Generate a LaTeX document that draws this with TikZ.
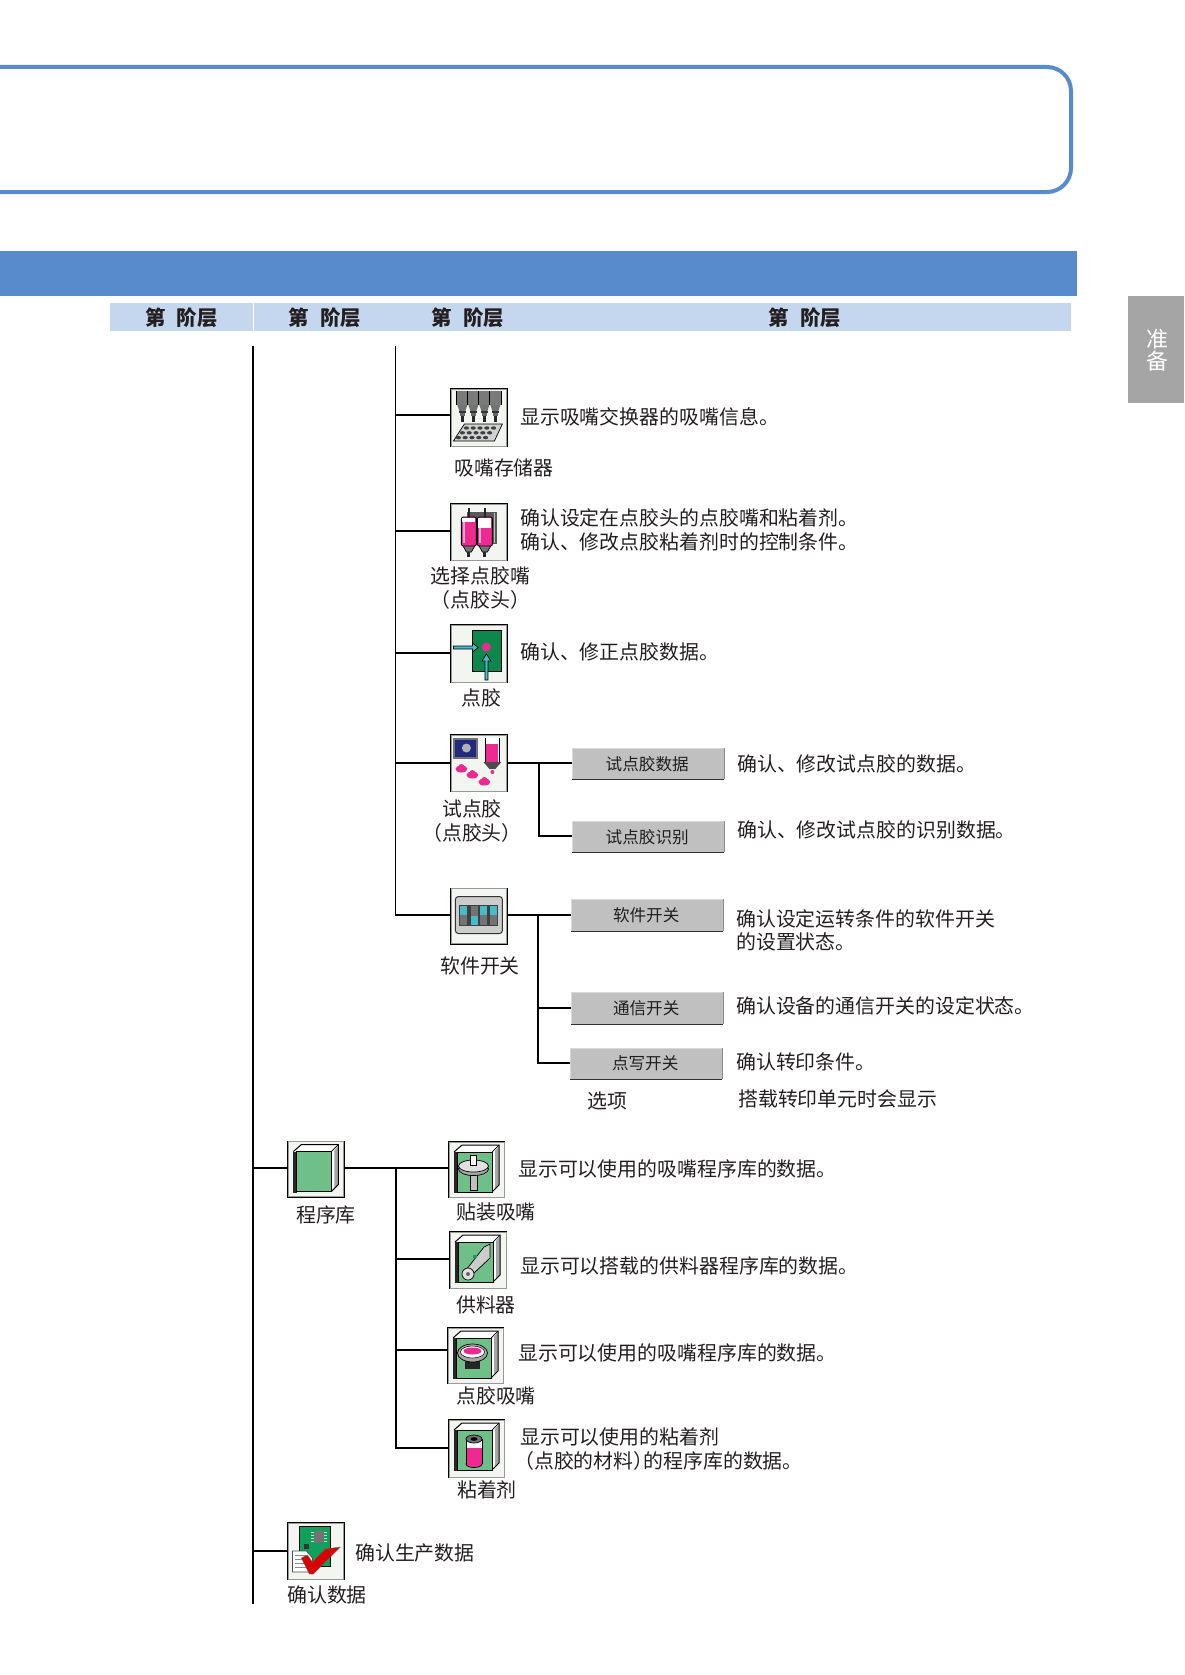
\documentclass[tikz,border=0pt]{standalone}
\usepackage{fontspec}
\setmainfont{Noto Sans CJK SC}
\definecolor{hblue}{HTML}{578BCB}
\definecolor{lblue}{HTML}{C5D7EF}
\definecolor{tabgray}{HTML}{A5A5A5}
\definecolor{btngray}{HTML}{C0C0C0}
\definecolor{icobg}{HTML}{F3F5F0}
\definecolor{bookgreen}{HTML}{6FC088}
\definecolor{pcbgreen}{HTML}{0FA05A}
\definecolor{pinkc}{HTML}{EC2A92}
\definecolor{tealc}{HTML}{45BCC8}
\definecolor{navyc}{HTML}{222A80}
\definecolor{txt}{HTML}{231F20}
\tikzset{
  x=1pt,y=-1pt,
  lab/.style={font=\fontsize{19.9}{20}\selectfont,text=txt,inner sep=0pt,text height=17.5pt,text depth=2.5pt},
  desc/.style={lab,anchor=west},
  head/.style={font=\fontsize{20.4}{20}\bfseries\selectfont,text=txt,inner sep=0pt,text height=17.5pt,text depth=2.5pt},
  btnbox/.style={fill=btngray,inner sep=0pt,anchor=north west,font=\fontsize{16.6}{18}\selectfont,text=black!88},
  trunk/.style={draw=black,line width=1.9pt},
  conn/.style={draw=black,line width=1.3pt},
  iconbox/.style={draw=black,fill=icobg,line width=1.3pt,inner sep=0pt,anchor=north west},
  ol/.style={draw=black,line width=.7pt},
  arrowpoly/.style={fill=tealc,draw=black,line width=.7pt},
}
\newcommand\myicon[5]{%
  \node[iconbox,minimum width=#4pt,minimum height=#5pt] (#1) at (#2,#3) {};
  \draw[black!40,line width=.9pt] ([xshift=1.2pt,yshift=-1.2pt]#1.north west) rectangle ([xshift=-1.2pt,yshift=1.2pt]#1.south east);
}
\newcommand\mybtn[6]{%
  \node[btnbox,minimum width=#4pt,minimum height=#5pt] (#1) at (#2,#3) {\kern-2pt #6};
  \draw[white!85!black,line width=.8pt] (#1.south west) -- (#1.north west) -- (#1.north east);
  \draw[black!45,line width=.8pt] (#1.north east) -- (#1.south east);
  \draw[black!80,line width=1.3pt] (#1.south west) -- (#1.south east);
}
\newcommand\mybook{%
  \fill[white] (6,11) -- (14,4) -- (51,4) -- (44,11) -- cycle;
  \fill[white] (44,11) -- (51,4) -- (51,44) -- (44,51) -- cycle;
  \fill[black!35] (47,10) -- (51,5) -- (51,44) -- (47,48) -- cycle;
  \draw[black,line width=1pt] (6,11) -- (14,4) -- (51,4) -- (51,44) -- (44,51);
  \draw[black,line width=.7pt] (44,11) -- (51,4);
  \fill[black!85] (6,11) rectangle (9.5,52);
  \fill[bookgreen] (9.5,11) rectangle (44,51);
  \draw[black,line width=1pt] (9.5,11) rectangle (44,51);
}
\begin{document}
\begin{tikzpicture}
\useasboundingbox (0,0) rectangle (1184,1675);
% title box
\draw[hblue,line width=4pt,rounded corners=24pt] (0,67) -- (1071,67) -- (1071,192) -- (0,192);
% bands
\fill[hblue] (0,251) rectangle (1077,296);
\fill[lblue] (110,303) rectangle (1071,331);
\draw[white,line width=1pt] (253,303) -- (253,331);
\node[head] (h1) at (181.5,318) {第\hspace{11pt}阶层};
\node[head] (h2) at (325,318) {第\hspace{11pt}阶层};
\node[head] (h3) at (468,318) {第\hspace{11pt}阶层};
\node[head] (h4) at (805,318) {第\hspace{11pt}阶层};
% side tab
\fill[tabgray] (1128,296) rectangle (1184,403);
\node[lab,text=white,font=\fontsize{22}{22}\selectfont] (tab1) at (1157,340) {准};
\node[lab,text=white,font=\fontsize{22}{22}\selectfont] (tab2) at (1157,362) {备};
% trunks
\coordinate (t2a) at (253,346); \coordinate (t2b) at (253,1604);
\coordinate (t3a) at (395.5,346); \coordinate (t3b) at (395.5,916);
\coordinate (t4a) at (396,1168); \coordinate (t4b) at (396,1449);
\draw[trunk] (t2a) -- (t2b);
\draw[trunk] (t3a) -- (t3b);
\draw[conn,line width=1.5pt] (t4a) -- (t4b);
% icons
\myicon{i1}{450.4}{388}{56}{58}
\myicon{i2}{450.4}{503}{56}{57}
\myicon{i3}{450.4}{624}{56}{58}
\myicon{i4}{450.4}{734}{56}{57}
\myicon{i5}{450.4}{887.5}{56}{56}
\myicon{l0}{287.4}{1140.5}{56}{56}
\myicon{l1}{448}{1141}{56}{56}
\myicon{l2}{449}{1231}{57}{57}
\myicon{l3}{447}{1327}{56}{56}
\myicon{l4}{448}{1419}{56}{58}
\myicon{d0}{287.4}{1522}{56}{57}
% connectors level 3
\coordinate (j1) at (395.5,415); \draw[conn] (j1) -- (j1 -| i1.west);
\coordinate (j2) at (395.5,531); \draw[conn] (j2) -- (j2 -| i2.west);
\coordinate (j3) at (395.5,653); \draw[conn] (j3) -- (j3 -| i3.west);
\coordinate (j4) at (395.5,763); \draw[conn] (j4) -- (j4 -| i4.west);
\coordinate (j5) at (395.5,915); \draw[conn] (j5) -- (j5 -| i5.west);
\coordinate (j6) at (253,1168); \draw[conn] (j6) -- (j6 -| l0.west);
\coordinate (j7) at (253,1551); \draw[conn] (j7) -- (j7 -| d0.west);
\coordinate (k0) at (396,1168); \draw[conn,line width=1.5pt] (k0 -| l0.east) -- (k0);
\draw[conn] (k0) -- (k0 -| l1.west);
\coordinate (k2) at (396,1259); \draw[conn] (k2) -- (k2 -| l2.west);
\coordinate (k3) at (396,1350); \draw[conn] (k3) -- (k3 -| l3.west);
\coordinate (k4) at (396,1448); \draw[conn] (k4) -- (k4 -| l4.west);
% buttons
\mybtn{b1}{572}{748}{152}{31}{试点胶数据}
\mybtn{b2}{572}{821}{152}{31}{试点胶识别}
\mybtn{b3}{571}{899}{152}{32}{软件开关}
\mybtn{b4}{571}{992}{152}{32}{通信开关}
\mybtn{b5}{570}{1048}{152}{31}{点写开关}
\coordinate (m1) at (539,763); \coordinate (m2) at (539,836);
\draw[conn] (i4.east |- m1) -- (m1 -| b1.west);
\draw[conn] (m1) -- (m2) -- (m2 -| b2.west);
\coordinate (n1) at (538,915); \coordinate (n2) at (538,1008); \coordinate (n3) at (538,1063);
\draw[conn] (i5.east |- n1) -- (n1 -| b3.west);
\draw[conn] (n1) -- (n3) -- (n3 -| b5.west);
\draw[conn] (n2) -- (n2 -| b4.west);
% icon 1 content
\begin{scope}[shift={(450.4,388)}]
  \fill[black!52] (6,3) rectangle (51,17);
  \foreach \a in {7,18,29,40}{
    \draw[black,line width=.7pt] (\a-1,3) -- (\a-1,17);
    \fill[black!55] (\a,17) -- (\a+10,17) -- (\a+8,23) -- (\a+2,23) -- cycle;
    \fill[black!80] (\a+1.5,23) rectangle (\a+8.5,25);
    \fill[black!60] (\a+2.5,25) rectangle (\a+7.5,28);
    \fill[black!85] (\a+3.5,28) rectangle (\a+6.5,34);
  }
  \draw[black,line width=.7pt] (51,3) -- (51,17);
  \fill[black!18] (14,36) -- (52,36) -- (44,53) -- (3,53) -- cycle;
  \draw[ol] (14,36) -- (52,36) -- (44,53) -- (3,53) -- cycle;
  \foreach \r/\s in {0/16,1/12,2/8}{\foreach \c in {0,...,4}{
    \fill[black!75] (\s+\c*6.8,40+\r*4.8) ellipse [x radius=2.6pt,y radius=1.7pt];}}
\end{scope}
% icon 2 content
\begin{scope}[shift={(450.4,503)}]
  \fill[black!65] (17,9) rectangle (47,41);
  \fill[black!25] (44,10) rectangle (45,40);
  \foreach \a in {11,27}{
    \fill[black!55] (\a,40) -- (\a+15,40) -- (\a+10,49) -- (\a+5,49) -- cycle;
    \draw[ol] (\a,40) -- (\a+15,40) -- (\a+10,49) -- (\a+5,49) -- cycle;
    \fill[black!85] (\a+6,49) rectangle (\a+9,54);
    \fill[pinkc,rounded corners=2pt] (\a,14) rectangle (\a+15,43);
    \draw[ol,line width=.9pt,rounded corners=2pt] (\a,14) rectangle (\a+15,43);
    \fill[black!85] (\a+6.5,5) rectangle (\a+8.5,16);
    \fill[white!60!pinkc] (\a+2,18) rectangle (\a+4,40);
  }
  \fill[white] (28,15) rectangle (41,25);
  \fill[white] (12,15) rectangle (25,19);
\end{scope}
% icon 3 content
\begin{scope}[shift={(450.4,624)}]
  \fill[pcbgreen!85!black] (22,6) rectangle (51,47);
  \draw[ol,line width=1pt] (22,6) rectangle (51,47);
  \fill[pinkc] (36,23) circle (4.5pt);
  \filldraw[arrowpoly] (3,22) -- (22,22) -- (22,19) -- (28,23.5) -- (22,28) -- (22,25) -- (3,25) -- cycle;
  \filldraw[arrowpoly] (34.5,56) -- (34.5,37) -- (31.5,37) -- (36,30) -- (40.5,37) -- (37.5,37) -- (37.5,56) -- cycle;
\end{scope}
% icon 4 content
\begin{scope}[shift={(450.4,734)}]
  \fill[black!55] (3,4) rectangle (28,25);
  \fill[navyc] (5,6) rectangle (26,23);
  \fill[black!30] (16,14) circle (4.5pt);
  \fill[white] (35,4) rectangle (49,26);
  \fill[pinkc] (36,10) rectangle (48,28);
  \draw[ol,line width=1pt] (35,4) -- (35,28) (49,4) -- (49,28);
  \fill[black!70] (33,28) -- (51,28) -- (45,35) -- (39,35) -- cycle;
  \fill[pinkc] (42,38) circle (2pt);
  \foreach \p/\q in {11/35,22/41,34/48}{
    \fill[pinkc] (\p,\q) ellipse [x radius=6pt,y radius=3.5pt];
    \fill[pinkc] (\p,\q-2) ellipse [x radius=3pt,y radius=3pt];
  }
\end{scope}
% icon 5 content
\begin{scope}[shift={(450.4,887.5)}]
  \fill[black!20,draw=black!80,line width=1pt,rounded corners=3pt] (5,9) rectangle (52,46);
  \fill[black!75] (9,17) rectangle (48,38);
  \foreach \a/\t in {10/1,20.5/0,30/1,40/1}{
    \fill[black!55] (\a,18) rectangle (\a+7,37);
    \ifnum\t=1 \fill[tealc] (\a,18) rectangle (\a+7,27);
    \else \fill[tealc] (\a,28) rectangle (\a+7,37); \fi
  }
\end{scope}
% library icons
\begin{scope}[shift={(287.4,1140.5)}] \mybook \end{scope}
\begin{scope}[shift={(448,1141)}]
  \mybook
  \fill[black!25] (22,31) rectangle (29,49); \draw[ol] (22,31) rectangle (29,49);
  \fill[black!35,draw=black,line width=.7pt] (25.5,28) ellipse [x radius=15pt,y radius=6.5pt];
  \fill[black!12,draw=black,line width=.7pt] (25.5,25) ellipse [x radius=15pt,y radius=6pt];
  \fill[white,draw=black,line width=.7pt] (22.5,14) rectangle (28.5,24);
\end{scope}
\begin{scope}[shift={(449,1231)}]
  \mybook
  \fill[black!20,draw=black,line width=.7pt] (35,16) -- (41,13) -- (41,27) -- (24,43) -- (17,39) -- cycle;
  \fill[pcbgreen] (24,24) rectangle (28,27);
  \fill[black!12,draw=black,line width=.7pt] (19,43) circle (6pt);
  \fill[black!60] (19,43) circle (2pt);
\end{scope}
\begin{scope}[shift={(447,1327)}]
  \mybook
  \fill[black!85] (18,29) rectangle (33,42);
  \fill[black!35,draw=black,line width=.7pt] (25.5,26) ellipse [x radius=15pt,y radius=9pt];
  \fill[white,draw=black,line width=.5pt] (25.5,25) ellipse [x radius=12pt,y radius=6pt];
  \fill[pinkc] (25.5,24) ellipse [x radius=9pt,y radius=3.5pt];
\end{scope}
\begin{scope}[shift={(448,1419)}]
  \mybook
  \fill[white] (18,20) rectangle (34,45);
  \fill[pinkc] (18,29) rectangle (34,45);
  \fill[pinkc,draw=black,line width=.7pt] (26,45) ellipse [x radius=8pt,y radius=3.5pt];
  \fill[pinkc] (18.4,38) rectangle (33.6,45);
  \draw[ol] (18,20) -- (18,45) (34,20) -- (34,45);
  \fill[black!55,draw=black,line width=.7pt] (26,20) ellipse [x radius=8pt,y radius=4pt];
  \fill[black] (26,20) ellipse [x radius=3.5pt,y radius=1.8pt];
\end{scope}
% confirm data icon
\begin{scope}[shift={(287.4,1522)}]
  \fill[pcbgreen] (12,4) rectangle (43,44);
  \draw[ol] (12,4) rectangle (43,44);
  \fill[black!55] (27,9) rectangle (37,21);
  \foreach \q in {10,13,16,19}{\draw[white!70!pcbgreen,line width=.7pt] (24,\q) -- (27,\q) (37,\q) -- (40,\q);}
  \fill[black!80] (17,22) rectangle (22,27);
  \fill[white,draw=black!70,line width=.7pt] (5,29) -- (19,29) -- (25,36) -- (25,50) -- (5,50) -- cycle;
  \foreach \q in {33,37,41,45}{\draw[black!45,line width=1pt] (8,\q) -- (19,\q);}
  \fill[red!85!black,draw=black!60,line width=.3pt] (14,36) -- (20,33) -- (25,40) -- (38,27) -- (53,25) -- (26,52) -- (22,52) -- cycle;
\end{scope}
% labels
\node[desc] (d1) at (520,417) {显示吸嘴交换器的吸嘴信息。};
\node[lab,anchor=west] (a1) at (454,468) {吸嘴存储器};
\node[desc] (d2a) at (520,518) {确认设定在点胶头的点胶嘴和粘着剂。};
\node[desc] (d2b) at (520,542) {确认、修改点胶粘着剂时的控制条件。};
\node[lab] (a2a) at (480.5,576) {选择点胶嘴};
\node[lab] (a2b) at (480.5,600) {（点胶头）};
\node[desc] (d3) at (520,652) {确认、修正点胶数据。};
\node[lab] (a3) at (481,698) {点胶};
\node[lab] (a4a) at (472,809) {试点胶};
\node[lab] (a4b) at (472,833) {（点胶头）};
\node[desc] (e1) at (737,764) {确认、修改试点胶的数据。};
\node[desc] (e2) at (737,830) {确认、修改试点胶的识别数据。};
\node[lab] (a5) at (480,966) {软件开关};
\node[desc] (e3a) at (736,919) {确认设定运转条件的软件开关};
\node[desc] (e3b) at (736,942) {的设置状态。};
\node[desc] (e4) at (736,1006) {确认设备的通信开关的设定状态。};
\node[desc] (e5) at (736,1062) {确认转印条件。};
\node[lab] (opt) at (607,1101) {选项};
\node[desc] (e6) at (738,1099) {搭载转印单元时会显示};
\node[lab] (c0) at (326,1215) {程序库};
\node[desc] (f1) at (518,1169) {显示可以使用的吸嘴程序库的数据。};
\node[lab] (c1) at (496,1212) {贴装吸嘴};
\node[desc] (f2) at (520,1266) {显示可以搭载的供料器程序库的数据。};
\node[lab] (c2) at (486,1305) {供料器};
\node[desc] (f3) at (518,1353) {显示可以使用的吸嘴程序库的数据。};
\node[lab] (c3) at (496,1396) {点胶吸嘴};
\node[desc] (f4a) at (520,1437) {显示可以使用的粘着剂};
\node[desc] (f4b) at (520,1461) {\kern-6pt（点胶的材料）\kern-10pt 的程序库的数据。};
\node[lab] (c4) at (487,1490) {粘着剂};
\node[desc] (g1) at (355,1553) {确认生产数据};
\node[lab] (g2) at (327,1595) {确认数据};
\end{tikzpicture}
\end{document}
